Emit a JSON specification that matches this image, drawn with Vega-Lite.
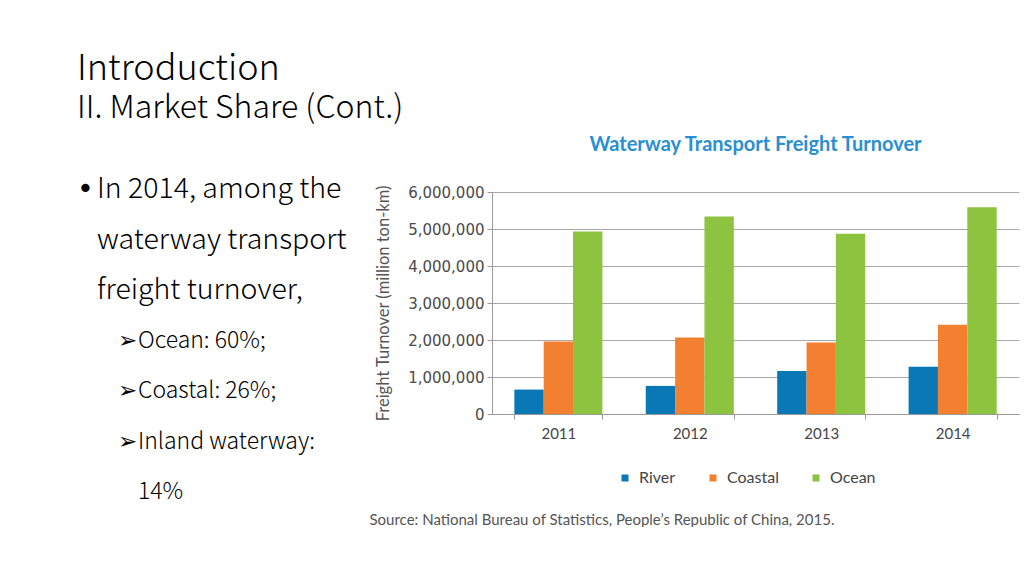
{
  "$schema": "https://vega.github.io/schema/vega-lite/v6.json",
  "background": "white",
  "padding": {"left": 77, "top": 50, "right": 2, "bottom": 0},
  "title": {
    "text": "Introduction",
    "subtitle": "II. Market Share (Cont.)",
    "anchor": "start",
    "font": "Noto Sans CJK SC",
    "fontSize": 36,
    "fontWeight": 300,
    "color": "#000000",
    "subtitleFont": "Noto Sans CJK SC",
    "subtitleFontSize": 32,
    "subtitleFontWeight": 300,
    "subtitleColor": "#000000",
    "subtitlePadding": 5,
    "offset": 10
  },
  "spacing": 12,
  "hconcat": [
    {
      "width": 280,
      "height": 303,
      "data": {
        "values": [
          {"line": 1, "level": 0, "marker": "•", "text": "In 2014, among the"},
          {"line": 2, "level": 0, "marker": "", "text": "waterway transport"},
          {"line": 3, "level": 0, "marker": "", "text": "freight turnover,"},
          {"line": 4, "level": 1, "marker": "➢", "text": "Ocean: 60%;"},
          {"line": 5, "level": 1, "marker": "➢", "text": "Coastal: 26%;"},
          {"line": 6, "level": 1, "marker": "➢", "text": "Inland waterway:"},
          {"line": 7, "level": 1, "marker": "", "text": "14%"}
        ]
      },
      "encoding": {
        "y": {"field": "line", "type": "ordinal", "scale": {"type": "point", "padding": 0}, "axis": null},
        "x": {"field": "level", "type": "quantitative", "scale": {"domain": [0, 1], "range": [0, 41]}, "axis": null},
        "size": {"field": "level", "type": "ordinal", "scale": {"range": [28.5, 23]}, "legend": null}
      },
      "layer": [
        {
          "mark": {"type": "text", "align": "left", "baseline": "middle", "dy": -3, "font": "DejaVu Sans", "color": "#000000"},
          "encoding": {"text": {"field": "marker"}}
        },
        {
          "mark": {"type": "text", "align": "left", "baseline": "middle", "dx": 20, "dy": -3, "font": "Noto Sans CJK SC", "fontWeight": 300, "color": "#000000"},
          "encoding": {"text": {"field": "text"}}
        }
      ]
    },
    {
      "width": 527,
      "height": 222,
      "title": {
        "text": "Waterway Transport Freight Turnover",
        "font": "Lato",
        "fontSize": 20,
        "fontWeight": "bold",
        "color": "#2a8fd1",
        "anchor": "middle",
        "offset": 30
      },
      "data": {
        "values": [
          {"year": "2011", "type": "River", "value": 660000},
          {"year": "2011", "type": "Coastal", "value": 1960000},
          {"year": "2011", "type": "Ocean", "value": 4930000},
          {"year": "2012", "type": "River", "value": 760000},
          {"year": "2012", "type": "Coastal", "value": 2070000},
          {"year": "2012", "type": "Ocean", "value": 5340000},
          {"year": "2013", "type": "River", "value": 1160000},
          {"year": "2013", "type": "Coastal", "value": 1930000},
          {"year": "2013", "type": "Ocean", "value": 4870000},
          {"year": "2014", "type": "River", "value": 1280000},
          {"year": "2014", "type": "Coastal", "value": 2410000},
          {"year": "2014", "type": "Ocean", "value": 5590000}
        ]
      },
      "mark": {"type": "bar"},
      "encoding": {
        "x": {
          "field": "year",
          "type": "ordinal",
          "scale": {"paddingInner": 0.33, "paddingOuter": 0.17},
          "axis": {
            "title": "Source: National Bureau of Statistics, People’s Republic of China, 2015.",
            "titleFont": "Lato",
            "titleFontSize": 15,
            "titleFontWeight": "normal",
            "titleColor": "#555555",
            "titleAlign": "left",
            "titleBaseline": "middle",
            "titleX": -123,
            "titleY": 105,
            "labelAngle": 0,
            "tickBand": "extent",
            "labelFont": "Lato",
            "labelFontSize": 15,
            "labelColor": "#444444",
            "domainColor": "#999999",
            "tickColor": "#999999",
            "tickSize": 5,
            "labelPadding": 7
          }
        },
        "xOffset": {"field": "type", "type": "nominal", "sort": ["River", "Coastal", "Ocean"], "scale": {"paddingInner": 0, "paddingOuter": 0}},
        "y": {
          "field": "value",
          "type": "quantitative",
          "scale": {"domain": [0, 6000000]},
          "axis": {
            "title": "Freight Turnover (million ton-km)",
            "values": [0, 1000000, 2000000, 3000000, 4000000, 5000000, 6000000],
            "format": ",d",
            "grid": true,
            "gridColor": "#a8a8a8",
            "domainColor": "#999999",
            "tickColor": "#999999",
            "tickSize": 5,
            "labelFont": "DejaVu Sans",
            "labelFontSize": 15,
            "labelColor": "#4a4a4a",
            "labelPadding": 3,
            "titleFont": "Lato",
            "titleFontSize": 16.5,
            "titleFontWeight": "normal",
            "titleColor": "#555555",
            "titlePadding": 16
          }
        },
        "color": {
          "field": "type",
          "type": "nominal",
          "scale": {"domain": ["River", "Coastal", "Ocean"], "range": ["#0a78b5", "#f28030", "#8cc33f"]},
          "legend": {
            "orient": "none",
            "direction": "horizontal",
            "legendX": 540,
            "legendY": 278,
            "title": null,
            "symbolType": "square",
            "symbolSize": 49,
            "symbolStrokeWidth": 0,
            "labelFont": "Lato",
            "labelFontSize": 16,
            "labelColor": "#444444",
            "labelOffset": 6,
            "columnPadding": 29
          }
        }
      }
    }
  ],
  "config": {"view": {"stroke": null}}
}
